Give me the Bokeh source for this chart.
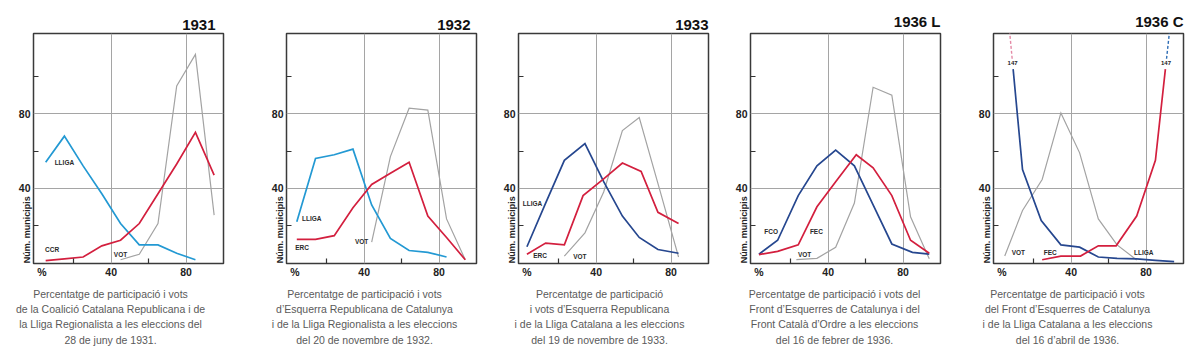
from bokeh.plotting import figure
from bokeh.layouts import row, column
from bokeh.models import Range1d, FixedTicker, Label
from bokeh.core.properties import value
from bokeh.embed import file_html
from bokeh.resources import INLINE

# ------------------------------------------------------------------ data
titles = ["1931", "1932", "1933", "1936 L", "1936 C"]

# 1931
vot_1931_x = [45, 55, 65, 75, 85, 95]
vot_1931_y = [1.5, 4.5, 21, 95, 112, 25.5]
ccr_1931_x = [5, 15, 25, 35, 45, 55, 65, 75, 85, 95]
ccr_1931_y = [1, 2, 3, 9, 12, 21, 37, 53, 70, 47]
lliga_1931_x = [5, 15, 25, 35, 45, 55, 65, 75, 85]
lliga_1931_y = [54, 68, 52, 37, 21, 9.5, 9.5, 5, 1.5]

# 1932
vot_1932_x = [44, 54, 64, 74, 84, 94]
vot_1932_y = [11, 57, 83, 82, 23.5, 1.5]
erc_1932_x = [4, 14, 24, 34, 44, 54, 64, 74, 84, 94]
erc_1932_y = [12.5, 12.5, 14.5, 29.5, 42, 48, 54, 25, 13.5, 1.5]
lliga_1932_x = [4, 14, 24, 34, 44, 54, 64, 74, 84]
lliga_1932_y = [22, 56, 58, 61, 31, 13, 6.5, 5.5, 3]

# 1933
vot_1933_x = [23, 34, 44, 54, 63, 74, 84]
vot_1933_y = [3.5, 16, 38, 71, 78, 39, 3]
erc_1933_x = [3, 13, 23, 33, 44, 54, 64, 73, 84]
erc_1933_y = [4.5, 10.5, 9.5, 36, 45, 53.5, 49, 27, 21]
lliga_1933_x = [3, 13, 23, 34, 44, 54, 63, 73, 84]
lliga_1933_y = [8.5, 32, 55, 64, 43.5, 25, 13.5, 7, 5]

# 1936 L (febrer)
vot_1936l_x = [23, 34, 44, 54, 64, 74, 84, 94]
vot_1936l_y = [1.6, 2.3, 8.2, 32, 94.3, 90, 24.6, 2]
fec_1936l_x = [3, 13, 24, 34, 44, 55, 64, 74, 84, 94]
fec_1936l_y = [4.3, 6, 9.5, 30, 43.5, 58, 51, 36, 12, 5]
fco_1936l_x = [3, 13, 24, 34, 44, 54, 64, 74, 85, 94]
fco_1936l_y = [4.5, 12, 36, 52, 60.5, 52, 31, 10, 5.5, 4.5]

# 1936 C (abril)
vot_1936c_x = [4.5, 14, 24.5, 34.5, 44.5, 54.5, 64.5, 75]
vot_1936c_y = [3.5, 28, 44.7, 80.5, 59, 23.5, 9.5, 1.4]
fec_1936c_x = [24.5, 34.5, 45, 54.5, 64, 75, 85, 95]
fec_1936c_y = [1.5, 3.5, 3.5, 9, 9, 25, 55, 147]
lliga_1936c_x = [5, 14, 24, 34.5, 44.5, 54.5, 64.5, 75, 85, 95]
lliga_1936c_y = [147, 50, 22.6, 9.5, 8.3, 3, 2.3, 2, 1.2, 0.5]

x_tick_values = [3, 40, 80]
x_tick_labels = ["%", "40", "80"]
x_minor_ticks = [20, 60]
y_tick_values = [40, 80]
y_minor_ticks = [20, 60, 100]
y_axis_title = "Núm. municipis"

captions = [
    ["Percentatge de participació i vots",
     "de la Coalició Catalana Republicana i de",
     "la Lliga Regionalista a les eleccions del",
     "28 de juny de 1931."],
    ["Percentatge de participació i vots",
     "d’Esquerra Republicana de Catalunya",
     "i de la Lliga Regionalista a les eleccions",
     "del 20 de novembre de 1932."],
    ["Percentatge de participació",
     "i vots d’Esquerra Republicana",
     "i de la Lliga Catalana a les eleccions",
     "del 19 de novembre de 1933."],
    ["Percentatge de participació i vots del",
     "Front d’Esquerres de Catalunya i del",
     "Front Català d’Ordre a les eleccions",
     "del 16 de febrer de 1936."],
    ["Percentatge de participació i vots",
     "del Front d’Esquerres de Catalunya",
     "i de la Lliga Catalana a les eleccions",
     "del 16 d’abril de 1936."],
]

# ------------------------------------------------------------------ styles
RED = "#d31f3e"
LBLUE = "#2399d3"
DBLUE = "#26478f"
GRAY = "#a3a3a3"
PINK = "#e48aa6"
MBLUE = "#2f6db5"
FONT = "Liberation Sans"

W = 240
MAIN_H, CAP_H = 280, 73
FRAME_W, FRAME_TOP, FRAME_H = 190, 33, 230
X0, X1 = -1.5, 100.0
Y0, Y1 = -0.5, 123.2

# the axis title is centred on the axis by Bokeh; trailing no-break spaces
# push the visible words down so they start at the bottom of the frame
YLABEL_PAD = "\u00a0" * 65

panels = [
    dict(left=33, title_inset=8, cap_center=110,
         series=[(vot_1931_x, vot_1931_y, GRAY, 1.2, None),
                 (lliga_1931_x, lliga_1931_y, LBLUE, 1.7, None),
                 (ccr_1931_x, ccr_1931_y, RED, 1.7, None)],
         labels=[("LLIGA", 15, 53.6), ("CCR", 8.4, 6.8), ("VOT", 45, 4.3)]),
    dict(left=46, title_inset=6, cap_center=124,
         series=[(vot_1932_x, vot_1932_y, GRAY, 1.2, None),
                 (lliga_1932_x, lliga_1932_y, LBLUE, 1.7, None),
                 (erc_1932_x, erc_1932_y, RED, 1.7, None)],
         labels=[("LLIGA", 12, 23.5), ("ERC", 6.8, 7.9), ("VOT", 38.6, 11.5)]),
    dict(left=38, title_inset=0, cap_center=119,
         series=[(vot_1933_x, vot_1933_y, GRAY, 1.2, None),
                 (lliga_1933_x, lliga_1933_y, DBLUE, 1.7, None),
                 (erc_1933_x, erc_1933_y, RED, 1.7, None)],
         labels=[("LLIGA", 6, 32), ("ERC", 10, 3.8), ("VOT", 31.3, 3.2)]),
    dict(left=30, title_inset=0, cap_center=114,
         series=[(vot_1936l_x, vot_1936l_y, GRAY, 1.2, None),
                 (fco_1936l_x, fco_1936l_y, DBLUE, 1.7, None),
                 (fec_1936l_x, fec_1936l_y, RED, 1.7, None)],
         labels=[("FCO", 9.5, 16.8), ("FEC", 33.7, 16.8), ("VOT", 27.4, 4.6)]),
    dict(left=33, title_inset=0, cap_center=107,
         series=[(vot_1936c_x, vot_1936c_y, GRAY, 1.2, None),
                 (lliga_1936c_x, lliga_1936c_y, DBLUE, 1.7, ("start", PINK)),
                 (fec_1936c_x, fec_1936c_y, RED, 1.7, ("end", MBLUE))],
         labels=[("VOT", 11.8, 5.6), ("FEC", 28.8, 5.6), ("LLIGA", 78.8, 5.6)]),
]

BREAK_LO, BREAK_HI, BREAK_LABEL = 104.0, 109.6, 107.2


def split_off_scale(xs, ys, where):
    xs, ys = list(xs), list(ys)
    if where == "start":
        xa, ya, xb, yb = xs[0], ys[0], xs[1], ys[1]
    else:
        xa, ya, xb, yb = xs[-1], ys[-1], xs[-2], ys[-2]

    def x_at(y):
        return xb + (y - yb) * (xa - xb) / (ya - yb)

    if where == "start":
        solid = ([x_at(BREAK_LO)] + xs[1:], [BREAK_LO] + ys[1:])
    else:
        solid = (xs[:-1] + [x_at(BREAK_LO)], ys[:-1] + [BREAK_LO])
    dashed = ([x_at(BREAK_HI), xa], [BREAK_HI, ya])
    lab = (x_at(BREAK_LABEL), BREAK_LABEL, f"{ya:g}")
    return solid, dashed, lab


figs, caps = [], []
for i, cfg in enumerate(panels):
    left = cfg["left"]
    p = figure(width=W, height=MAIN_H, output_backend="svg", toolbar_location=None,
               x_range=Range1d(X0, X1), y_range=Range1d(Y0, Y1),
               min_border_left=left, min_border_right=W - left - FRAME_W,
               min_border_top=FRAME_TOP, min_border_bottom=MAIN_H - FRAME_TOP - FRAME_H)
    p.background_fill_color = "white"
    p.border_fill_color = "white"
    p.outline_line_color = "#3a3a3a"
    p.outline_line_width = 1.5

    # title (year)
    p.title.text = titles[i]
    p.title.align = "right"
    p.title.offset = cfg["title_inset"]
    p.title.text_font = FONT
    p.title.text_font_style = "bold"
    p.title.text_font_size = "15px"
    p.title.text_color = "#111111"
    p.title.standoff = 8
    p.title.vertical_align = "bottom"

    # axes
    p.xaxis.ticker = FixedTicker(ticks=x_tick_values, minor_ticks=x_minor_ticks)
    p.xaxis.major_label_overrides = {v: t for v, t in zip(x_tick_values, x_tick_labels)}
    p.yaxis.ticker = FixedTicker(ticks=y_tick_values, minor_ticks=y_minor_ticks)
    for ax in (p.xaxis[0], p.yaxis[0]):
        ax.axis_line_color = None
        ax.major_tick_in = 0
        ax.major_tick_out = 0
        ax.minor_tick_in = 5
        ax.minor_tick_out = 0
        ax.minor_tick_line_color = "#333333"
        ax.minor_tick_line_width = 1.2
        ax.major_label_text_font = FONT
        ax.major_label_text_font_style = "bold"
        ax.major_label_text_font_size = "10.5px"
        ax.major_label_text_color = "#222222"
        ax.major_label_standoff = 3
    p.xaxis.major_label_standoff = 2

    yax = p.yaxis[0]
    yax.axis_label = y_axis_title + YLABEL_PAD
    yax.axis_label_text_font = FONT
    yax.axis_label_text_font_style = "bold"
    yax.axis_label_text_font_size = "9px"
    yax.axis_label_text_color = "#222222"
    yax.axis_label_standoff = -16

    p.xgrid.ticker = FixedTicker(ticks=[40, 80])
    p.ygrid.ticker = FixedTicker(ticks=y_tick_values)
    for g in (p.xgrid[0], p.ygrid[0]):
        g.grid_line_color = "#a5a5a5"
        g.grid_line_width = 1

    # series
    for xs, ys, col, lw, brk in cfg["series"]:
        if brk is None:
            p.line(xs, ys, line_color=col, line_width=lw, line_join="miter")
        else:
            where, dcol = brk
            solid, dashed, lab = split_off_scale(xs, ys, where)
            p.line(solid[0], solid[1], line_color=col, line_width=lw, line_join="miter")
            p.line(dashed[0], dashed[1], line_color=dcol, line_width=1.4,
                   line_dash="3 2")
            p.add_layout(Label(x=lab[0], y=lab[1], text=lab[2], text_font=FONT,
                               text_font_style="bold", text_font_size="6px",
                               text_color="#222222", text_align="center",
                               text_baseline="middle"))

    # series labels
    for txt, lx, ly in cfg["labels"]:
        p.add_layout(Label(x=lx, y=ly, text=txt, text_font=FONT,
                           text_font_style="bold", text_font_size="6.5px",
                           text_color="#2a2a2a", text_align="center",
                           text_baseline="middle"))
    figs.append(p)

    # caption strip under the panel (pixel coordinates, y downward)
    c = figure(width=W, height=CAP_H, output_backend="svg", toolbar_location=None,
               x_range=Range1d(0, W), y_range=Range1d(CAP_H, 0),
               x_axis_location=None, y_axis_location=None, min_border=0)
    c.grid.visible = False
    c.outline_line_color = None
    c.background_fill_color = "white"
    c.border_fill_color = "white"
    lines = captions[i]
    c.text(x=[cfg["cap_center"]] * len(lines),
           y=[13.3 + 15.3 * k for k in range(len(lines))],
           text=lines, text_font=value(FONT), text_font_size="10.5px",
           text_color="#5a5a5a", text_align="center", text_baseline="middle")
    caps.append(c)

layout = column(row(*figs), row(*caps))
open("out.html", "w").write(file_html(layout, INLINE))
